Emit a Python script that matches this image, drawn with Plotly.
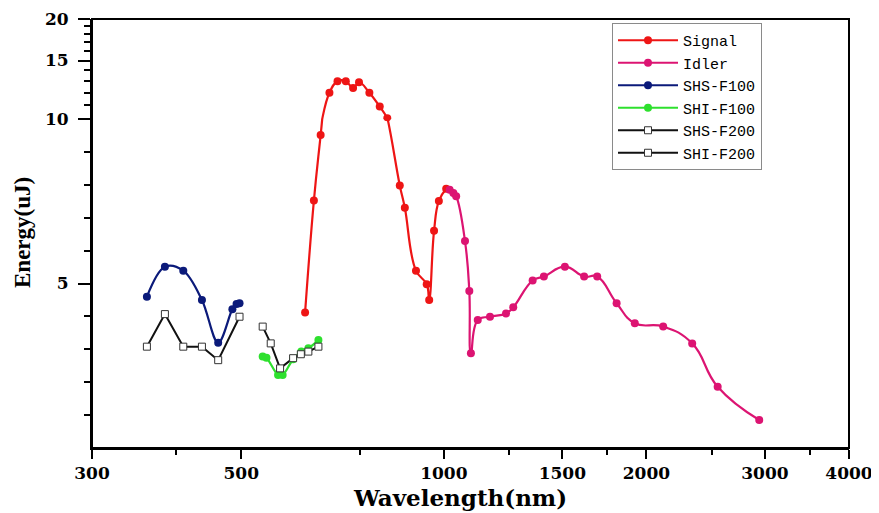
import math
import plotly.graph_objects as go

# ---- data ----
signal_wl = [622, 641, 656, 676, 695, 715, 733, 748, 775, 803, 824, 860, 875, 909, 943, 951, 967, 983, 1008]
signal_e = [4.12, 7.52, 9.51, 12.0, 13.0, 13.0, 12.4, 12.9, 12.0, 10.9, 10.05, 7.98, 7.30, 5.39, 4.98, 4.50, 6.60, 7.51, 7.88]

idler_wl = [1020, 1033, 1043, 1075, 1091, 1097, 1123, 1171, 1237, 1268, 1355, 1408, 1513, 1616, 1690, 1806, 1922, 2118, 2339, 2552, 2942]
idler_e = [7.85, 7.75, 7.65, 6.29, 4.77, 2.88, 3.89, 3.99, 4.09, 4.28, 5.09, 5.21, 5.51, 5.21, 5.21, 4.40, 3.79, 3.69, 3.18, 1.86, 0.85]

shs100_wl = [362, 385, 410, 437, 462, 485, 492, 497]
shs100_e = [4.60, 5.51, 5.39, 4.50, 3.20, 4.22, 4.38, 4.40]

shi100_wl = [538, 545, 567, 576, 597, 614, 629, 651]
shi100_e = [2.78, 2.74, 2.22, 2.22, 2.70, 2.93, 3.03, 3.28]

shs200_wl = [362, 385, 410, 437, 462, 497]
shs200_e = [3.08, 4.07, 3.08, 3.08, 2.67, 3.99]

shi200_wl = [538, 553, 571, 597, 613, 629, 651]
shi200_e = [3.69, 3.18, 2.42, 2.73, 2.85, 2.93, 3.08]

x_ticks = [300, 500, 1000, 1500, 2000, 3000, 4000]
x_minor = [400, 750, 1250, 1750, 2500, 3500]
y_low_ticks = [5]
y_low_minor = [1, 2, 3, 4, 6, 7, 8, 9]
y_up_ticks = [10, 15, 20]
y_up_minor = [11, 12, 13, 14, 16, 17, 18, 19]

# ---- styling ----
C_SIG = "#ee1515"
C_IDL = "#dc1472"
C_SHS = "#0b1a7a"
C_SHI = "#2ee02e"
TICKFONT = dict(family="DejaVu Serif", size=17, color="black", weight="bold")
SPLIT = 329 / 429
BODY = 8  # default page margin of the html body

fig = go.Figure()

def circ(color):
    return dict(symbol="circle", size=8, color=color, line=dict(width=0))

sq = dict(symbol="square", size=7, color="white", line=dict(color="#333333", width=1))

fig.add_trace(go.Scatter(x=signal_wl, y=signal_e, name="Signal", mode="lines+markers",
                         line=dict(color=C_SIG, width=2.2, shape="spline", smoothing=1.2),
                         marker=circ(C_SIG), xaxis="x", yaxis="y"))
fig.add_trace(go.Scatter(x=idler_wl, y=idler_e, name="Idler", mode="lines+markers",
                         line=dict(color=C_IDL, width=2.2, shape="spline", smoothing=1.3),
                         marker=circ(C_IDL), xaxis="x", yaxis="y"))
fig.add_trace(go.Scatter(x=shs100_wl, y=shs100_e, name="SHS-F100", mode="lines+markers",
                         line=dict(color=C_SHS, width=2.2, shape="spline"),
                         marker=circ(C_SHS), xaxis="x", yaxis="y"))
fig.add_trace(go.Scatter(x=shi100_wl, y=shi100_e, name="SHI-F100", mode="lines+markers",
                         line=dict(color=C_SHI, width=2.2, shape="spline"),
                         marker=circ(C_SHI), xaxis="x", yaxis="y"))
fig.add_trace(go.Scatter(x=shs200_wl, y=shs200_e, name="SHS-F200", mode="lines+markers",
                         line=dict(color="#111111", width=2), marker=sq,
                         xaxis="x", yaxis="y"))
fig.add_trace(go.Scatter(x=shi200_wl, y=shi200_e, name="SHI-F200", mode="lines+markers",
                         line=dict(color="#111111", width=2), marker=sq,
                         xaxis="x", yaxis="y"))
# upper (log, 10-20) segment of the broken y axis
fig.add_trace(go.Scatter(x=signal_wl, y=signal_e, name="Signal", mode="lines+markers",
                         line=dict(color=C_SIG, width=2.2, shape="spline", smoothing=1.2),
                         marker=circ(C_SIG), xaxis="x2", yaxis="y2", showlegend=False))

fig.update_layout(
    width=879 - BODY, height=513 - BODY,
    margin=dict(l=92 - BODY, r=30, t=19 - BODY, b=65, autoexpand=False),
    paper_bgcolor="white", plot_bgcolor="white",
    showlegend=True,
    legend=dict(x=(612 - 92) / 757, y=(448 - 23) / 429, xanchor="left", yanchor="top",
                bgcolor="white", bordercolor="#8a8a8a", borderwidth=1,
                font=dict(family="Liberation Mono", size=15, color="black"),
                itemwidth=60, tracegroupgap=0),
    xaxis=dict(type="log", range=[math.log10(300), math.log10(4000)], domain=[0, 1],
               anchor="y", tickmode="array", tickvals=x_ticks, ticktext=[str(v) for v in x_ticks],
               ticks="outside", ticklen=9, tickwidth=2, tickcolor="black", automargin=False,
               showline=True, linewidth=2, linecolor="black", showgrid=False, zeroline=False,
               tickfont=TICKFONT,
               minor=dict(tickmode="array", tickvals=x_minor, ticks="outside", ticklen=5,
                          tickwidth=2, tickcolor="black", showgrid=False)),
    xaxis2=dict(type="log", matches="x", anchor="y2", visible=False, domain=[0, 1],
                automargin=False),
    yaxis=dict(range=[0, 10], domain=[0, SPLIT], anchor="x", automargin=False,
               tickmode="array", tickvals=y_low_ticks, ticktext=[str(v) for v in y_low_ticks],
               ticks="outside", ticklen=12, tickwidth=2, tickcolor="black",
               showline=True, linewidth=2, linecolor="black", showgrid=False, zeroline=False,
               tickfont=TICKFONT, ticklabelstandoff=6,
               minor=dict(tickmode="array", tickvals=y_low_minor, ticks="outside", ticklen=6,
                          tickwidth=2, tickcolor="black", showgrid=False)),
    yaxis2=dict(type="log", range=[1, math.log10(20)], domain=[SPLIT, 1], anchor="x2",
                automargin=False,
                tickmode="array", tickvals=y_up_ticks, ticktext=[str(v) for v in y_up_ticks],
                ticks="outside", ticklen=12, tickwidth=2, tickcolor="black",
                showline=True, linewidth=2, linecolor="black", showgrid=False, zeroline=False,
                tickfont=TICKFONT, ticklabelstandoff=6,
                minor=dict(tickmode="array", tickvals=y_up_minor, ticks="outside", ticklen=6,
                           tickwidth=2, tickcolor="black", showgrid=False)),
    shapes=[dict(type="rect", xref="paper", yref="paper", x0=0, x1=1, y0=0, y1=1,
                 line=dict(color="black", width=2), layer="above")],
    annotations=[
        dict(text="Wavelength(nm)", xref="paper", yref="paper", x=(460 - 92) / 757,
             y=(448 - 497) / 429, xanchor="center", yanchor="middle", showarrow=False,
             font=dict(family="DejaVu Serif", size=23, color="black", weight="bold")),
        dict(text="Energy(uJ)", xref="paper", yref="paper", x=(22 - 92) / 757,
             y=(448 - 233) / 429, xanchor="center", yanchor="middle", showarrow=False,
             textangle=-90,
             font=dict(family="Liberation Serif", size=23, color="black", weight="bold")),
    ],
)

fig.write_html("out.html")
